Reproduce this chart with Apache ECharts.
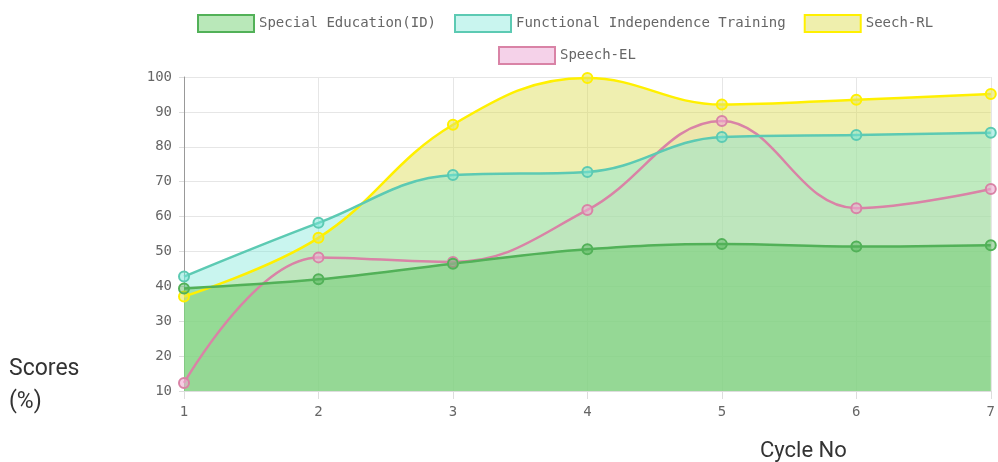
<!DOCTYPE html>
<html>
<head>
<meta charset="utf-8">
<style>
  html, body { margin: 0; padding: 0; background: #fff; }
  #chart { width: 998px; height: 462px; }
</style>
<script src="https://cdn.jsdelivr.net/npm/echarts@6/dist/echarts.min.js"></script>
</head>
<body>
<div id="chart"></div>
<script>
// data
var cycles = ["1", "2", "3", "4", "5", "6", "7"];
var specialEdu = [39.4, 42.0, 46.5, 50.6, 52.1, 51.4, 51.8];
var functional = [42.8, 58.2, 71.9, 72.8, 82.8, 83.4, 84.0];
var speechRL = [37.1, 53.9, 86.3, 99.7, 92.1, 93.5, 95.1];
var speechEL = [12.3, 48.3, 47.0, 61.9, 87.4, 62.4, 67.9];
var yTicks = [10, 100, 10]; // min, max, step

(function() {
  var myChart = echarts.init(document.getElementById("chart"));

  var monoFont = "DejaVu Sans Mono";

  // one style per series: line, point fill, area fill
  var styles = {
    "Special Education(ID)": { line: "#52b158", point: "rgba(82,177,88,0.45)", area: "rgba(100,200,100,0.45)", legend: "#b9e8b9" },
    "Functional Independence Training": { line: "#5ccab3", point: "rgba(120,230,215,0.5)", area: "rgba(120,230,215,0.4)", legend: "#c9f5ef" },
    "Seech-RL": { line: "#fff000", point: "rgba(230,230,90,0.6)", area: "rgba(220,220,80,0.45)", legend: "#efefad" },
    "Speech-EL": { line: "#d983a6", point: "rgba(240,170,210,0.6)", area: "rgba(230,150,200,0.12)", legend: "#f5d2e9" }
  };

  function makeSeries(name, values) {
    var s = styles[name];
    return {
      name: name,
      type: "line",
      smooth: 0.4,
      data: values,
      symbol: "circle",
      symbolSize: 10,
      lineStyle: { color: s.line, width: 2.5 },
      itemStyle: { color: s.point, borderColor: s.line, borderWidth: 2 },
      areaStyle: { color: s.area, opacity: 1, origin: "start" }
    };
  }

  function legendItem(name) {
    var s = styles[name];
    return {
      name: name,
      icon: "rect",
      itemStyle: { color: s.legend, borderColor: s.line, borderWidth: 2 }
    };
  }

  var legendText = { fontFamily: monoFont, fontSize: 14, color: "#666" };

  var option = {
    animation: false,
    legend: [
      {
        left: 192,
        top: 9,
        itemWidth: 56,
        itemHeight: 17,
        itemGap: 18,
        textStyle: legendText,
        data: [
          legendItem("Special Education(ID)"),
          legendItem("Functional Independence Training"),
          legendItem("Seech-RL")
        ]
      },
      {
        left: 493,
        top: 41,
        itemWidth: 56,
        itemHeight: 17,
        textStyle: legendText,
        data: [legendItem("Speech-EL")]
      }
    ],
    grid: {
      left: 184,
      right: 4,
      top: 77,
      bottom: 71
    },
    xAxis: {
      type: "category",
      boundaryGap: false,
      data: cycles,
      axisLine: { lineStyle: { color: "#ddd" } },
      axisTick: { show: true, length: 8, lineStyle: { color: "#ddd" } },
      axisLabel: { fontFamily: monoFont, fontSize: 14, color: "#666", margin: 14 },
      splitLine: { show: true, lineStyle: { color: "#e6e6e6" } }
    },
    yAxis: {
      type: "value",
      min: yTicks[0],
      max: yTicks[1],
      interval: yTicks[2],
      axisLine: { show: true, lineStyle: { color: "#999" } },
      axisTick: { show: true, length: 5, lineStyle: { color: "#ddd" } },
      axisLabel: { fontFamily: monoFont, fontSize: 14, color: "#666", margin: 12 },
      splitLine: { lineStyle: { color: "#e6e6e6" } }
    },
    graphic: [
      {
        type: "text",
        left: 9,
        top: 353,
        style: { text: "Scores\n(%)", font: "23px Roboto", fill: "#333", lineHeight: 33 }
      },
      {
        type: "text",
        left: 760,
        top: 440,
        style: { text: "Cycle No", font: "22px Roboto", fill: "#333" }
      }
    ],
    // drawn bottom first: pink, yellow, teal, green on top
    series: [
      makeSeries("Speech-EL", speechEL),
      makeSeries("Seech-RL", speechRL),
      makeSeries("Functional Independence Training", functional),
      makeSeries("Special Education(ID)", specialEdu)
    ]
  };

  myChart.setOption(option);
  window.addEventListener("resize", function() {
    myChart.resize();
  });
})();
</script>
</body>
</html>
